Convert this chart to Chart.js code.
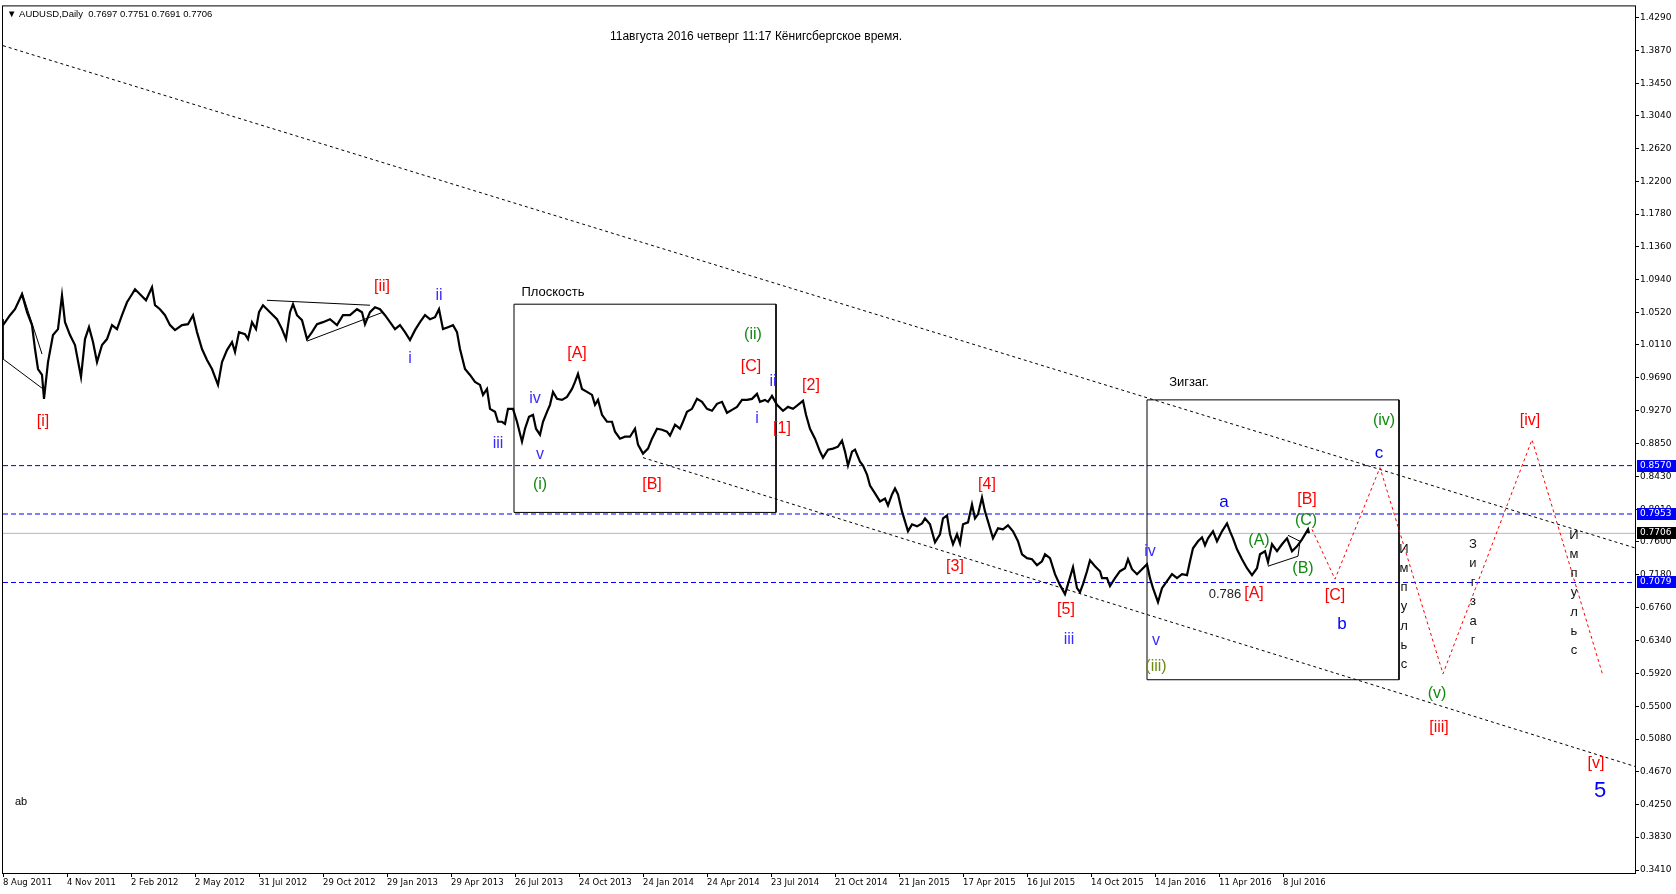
<!DOCTYPE html>
<html>
<head>
<meta charset="utf-8">
<script src="https://cdn.jsdelivr.net/npm/chart.js@4.4.1/dist/chart.umd.min.js"></script>
<style>
html, body { margin: 0; padding: 0; background: #fff; }
#wrap { width: 1676px; height: 894px; position: relative; }
</style>
</head>
<body>
<div id="wrap"><canvas id="chart"></canvas></div>
<script>
// axis labels
const xTickLabels = ['8 Aug 2011', '4 Nov 2011', '2 Feb 2012', '2 May 2012', '31 Jul 2012', '29 Oct 2012',
    '29 Jan 2013', '29 Apr 2013', '26 Jul 2013', '24 Oct 2013', '24 Jan 2014', '24 Apr 2014', '23 Jul 2014',
    '21 Oct 2014', '21 Jan 2015', '17 Apr 2015', '16 Jul 2015', '14 Oct 2015', '14 Jan 2016', '11 Apr 2016', '8 Jul 2016'];
const barsPerLabel = 64;
const yTickLabels = ['1.4290', '1.3870', '1.3450', '1.3040', '1.2620', '1.2200', '1.1780', '1.1360', '1.0940',
    '1.0520', '1.0110', '0.9690', '0.9270', '0.8850', '0.8430', '0.8010', '0.7600', '0.7180', '0.6760',
    '0.6340', '0.5920', '0.5500', '0.5080', '0.4670', '0.4250', '0.3830', '0.3410'];

// AUDUSD daily, bar number from 8 Aug 2011 and price
const barIndex = [0, 7, 12, 19, 24, 29, 32, 35, 39, 41, 45, 50, 55, 59, 62, 67, 72, 78, 82, 86, 90, 94, 99, 104, 109,
    114, 119, 124, 129, 132, 137, 143, 149, 152, 157, 162, 167, 172, 179, 185, 190, 194, 199, 204, 209, 215, 219,
    224, 229, 232, 236, 242, 245, 249, 253, 256, 260, 267, 274, 279, 283, 287, 290, 294, 299, 304, 309, 314, 320,
    327, 334, 340, 347, 354, 359, 362, 367, 372, 377, 382, 387, 392, 397, 402, 407, 412, 417, 422, 427, 432, 436,
    440, 445, 450, 454, 457, 462, 467, 472, 477, 480, 484, 487, 492, 495, 499, 502, 505, 510, 514, 519, 522, 526,
    530, 533, 537, 540, 544, 547, 550, 554, 559, 564, 569, 572, 575, 579, 584, 589, 592, 595, 599, 604, 609, 612,
    617, 622, 627, 632, 635, 640, 645, 649, 654, 659, 664, 667, 672, 677, 680, 684, 689, 694, 699, 704, 709, 714,
    719, 724, 729, 734, 739, 744, 749, 754, 757, 762, 765, 769, 774, 780, 785, 790, 795, 800, 803, 807, 812, 817,
    820, 825, 830, 835, 839, 842, 845, 849, 852, 857, 860, 864, 867, 872, 877, 882, 885, 889, 892, 895, 899, 902,
    905, 909, 914, 919, 922, 927, 932, 937, 940, 944, 947, 950, 954, 957, 960, 965, 969, 972, 975, 979, 982, 985,
    990, 995, 1000, 1005, 1010, 1015, 1019, 1024, 1029, 1034, 1039, 1042, 1047, 1052, 1057, 1062, 1065, 1070, 1074,
    1077, 1080, 1084, 1087, 1092, 1097, 1099, 1104, 1107, 1112, 1117, 1122, 1125, 1129, 1134, 1139, 1144, 1147,
    1150, 1155, 1159, 1164, 1169, 1174, 1179, 1184, 1187, 1190, 1195, 1199, 1202, 1205, 1210, 1214, 1219, 1224,
    1227, 1230, 1234, 1239, 1244, 1249, 1254, 1257, 1262, 1265, 1269, 1274, 1279, 1284, 1289, 1294, 1299, 1305, 1306];
const closePrice = [1.0363, 1.0490, 1.0566, 1.0757, 1.0528, 1.0363, 1.0058, 0.9803, 0.9727, 0.9422, 0.9892, 1.0236,
    1.0312, 1.0744, 1.0401, 1.0236, 1.0109, 0.9702, 1.0185, 1.0337, 1.0147, 0.9892, 1.0109, 1.0185, 1.0363, 1.0312,
    1.0490, 1.0655, 1.0757, 1.0820, 1.0757, 1.0680, 1.0846, 1.0617, 1.0566, 1.0490, 1.0363, 1.0299, 1.0363, 1.0375,
    1.0490, 1.0274, 1.0058, 0.9918, 0.9803, 0.9600, 0.9892, 1.0045, 1.0147, 1.0020, 1.0274, 1.0248, 1.0185, 1.0401,
    1.0312, 1.0528, 1.0617, 1.0528, 1.0439, 1.0312, 1.0185, 1.0528, 1.0630, 1.0490, 1.0426, 1.0185, 1.0274, 1.0375,
    1.0401, 1.0439, 1.0363, 1.0490, 1.0490, 1.0566, 1.0528, 1.0375, 1.0528, 1.0591, 1.0566, 1.0490, 1.0401, 1.0312,
    1.0363, 1.0274, 1.0172, 1.0299, 1.0401, 1.0490, 1.0439, 1.0464, 1.0566, 1.0312, 1.0337, 1.0363, 1.0274, 1.0058,
    0.9803, 0.9727, 0.9638, 0.9600, 0.9473, 0.9549, 0.9295, 0.9257, 0.9130, 0.9130, 0.9104, 0.9295, 0.9295, 0.9130,
    0.8876, 0.9041, 0.9193, 0.9219, 0.9041, 0.8965, 0.9130, 0.9257, 0.9346, 0.9511, 0.9422, 0.9409, 0.9448, 0.9549,
    0.9638, 0.9740, 0.9549, 0.9511, 0.9473, 0.9346, 0.9409, 0.9219, 0.9130, 0.9130, 0.9003, 0.8914, 0.8939, 0.8939,
    0.9041, 0.8838, 0.8723, 0.8787, 0.8914, 0.9041, 0.9028, 0.9003, 0.8952, 0.9092, 0.9041, 0.9130, 0.9257, 0.9295,
    0.9422, 0.9384, 0.9295, 0.9270, 0.9359, 0.9384, 0.9244, 0.9282, 0.9320, 0.9409, 0.9409, 0.9422, 0.9486, 0.9384,
    0.9409, 0.9384, 0.9460, 0.9346, 0.9270, 0.9320, 0.9295, 0.9346, 0.9397, 0.9219, 0.9041, 0.8914, 0.8749, 0.8672,
    0.8774, 0.8787, 0.8812, 0.8888, 0.8749, 0.8571, 0.8749, 0.8774, 0.8621, 0.8571, 0.8456, 0.8316, 0.8215, 0.8113,
    0.8151, 0.8062, 0.8202, 0.8278, 0.8202, 0.7986, 0.7859, 0.7732, 0.7821, 0.7795, 0.7833, 0.7897, 0.7821, 0.7592,
    0.7694, 0.7897, 0.7935, 0.7694, 0.7567, 0.7694, 0.7579, 0.7821, 0.7846, 0.8075, 0.7897, 0.7948, 0.8164, 0.7986,
    0.7859, 0.7643, 0.7770, 0.7757, 0.7808, 0.7732, 0.7605, 0.7439, 0.7389, 0.7376, 0.7300, 0.7350, 0.7439, 0.7389,
    0.7185, 0.7045, 0.6931, 0.7058, 0.7274, 0.7007, 0.6956, 0.7058, 0.7223, 0.7363, 0.7287, 0.7223, 0.7134, 0.7134,
    0.7033, 0.7134, 0.7223, 0.7261, 0.7376, 0.7249, 0.7185, 0.7249, 0.7312, 0.7134, 0.7007, 0.6829, 0.7007, 0.7096,
    0.7185, 0.7134, 0.7185, 0.7173, 0.7350, 0.7516, 0.7605, 0.7655, 0.7554, 0.7643, 0.7732, 0.7605, 0.7732, 0.7833,
    0.7732, 0.7643, 0.7503, 0.7376, 0.7261, 0.7173, 0.7261, 0.7439, 0.7478, 0.7338, 0.7567, 0.7478, 0.7567, 0.7643,
    0.7478, 0.7541, 0.7630, 0.7757, 0.7706];

// forecast path (red dotted)
const forecastIndex = [1309, 1332, 1377, 1440, 1529, 1600];
const forecastPrice = [0.7757, 0.7122, 0.8545, 0.5914, 0.8901, 0.5889];

// channel lines
const upperLineIndex = [0, 1632];
const upperLinePrice = [1.3929, 0.7520];
const lowerLineIndex = [640, 1632];
const lowerLinePrice = [0.8672, 0.4732];

// horizontal levels
const levelPrices = [0.8570, 0.7953, 0.7079];
const lastPrice = 0.7706;

// boxes: [from bar, to bar, top price, bottom price]
const flatBox = [511, 773, 1.0630, 0.7973];
const zigzagBox = [1144, 1396, 0.9409, 0.5838];

// thin drawn lines (null = break)
const thinIndex = [0, 0, 40, null, 19, 39, null, 264, 367, null, 304, 380, null, 1265, 1295, 1297, 1285];
const thinPrice = [1.0439, 0.9931, 0.9549, null, 1.0782, 0.9994, null, 1.0680, 1.0617, null, 1.0159, 1.0528, null,
    0.7287, 0.7414, 0.7605, 0.7681];

// wave labels [text, bar, price]
const redLabels = [['[i]', 40, 0.9130], ['[ii]', 379, 1.0858], ['[A]', 574, 0.9994], ['[B]', 649, 0.8329],
    ['[C]', 748, 0.9829], ['[1]', 779, 0.9041], ['[2]', 808, 0.9587], ['[3]', 952, 0.7287], ['[4]', 984, 0.8329],
    ['[5]', 1063, 0.6728], ['[A]', 1251, 0.6931], ['[B]', 1304, 0.8138], ['[C]', 1332, 0.6906],
    ['[iv]', 1527, 0.9143], ['[iii]', 1436, 0.5228], ['[v]', 1593, 0.4770]];
const greenLabels = [['(i)', 537, 0.8329], ['(ii)', 750, 1.0248], ['(A)', 1256, 0.7617], ['(B)', 1300, 0.7261],
    ['(C)', 1303, 0.7872], ['(iv)', 1381, 0.9143], ['(v)', 1434, 0.5660]];
const oliveLabels = [['(iii)', 1153, 0.6003]];
const violetLabels = [['i', 407, 0.9931], ['ii', 436, 1.0744], ['iii', 495, 0.8850], ['iv', 532, 0.9422],
    ['v', 537, 0.8710], ['ii', 770, 0.9638], ['i', 754, 0.9168], ['iii', 1066, 0.6346], ['iv', 1147, 0.7478],
    ['v', 1153, 0.6334]];
const blueLabels = [['a', 1221, 0.8100], ['b', 1339, 0.6550], ['c', 1376, 0.8723]];
const bigLabels = [['5', 1597, 0.4414]];
const blackLabels = [['Плоскость', 550, 1.0782], ['Зигзаг.', 1186, 0.9638], ['0.786', 1222, 0.6931], ['ab', 18, 0.4275]];
const verticalLabels = [['Импульс', 1401, 0.7503], ['Зигзаг', 1470, 0.7567], ['Импульс', 1571, 0.7681]];

const headerText = '\u25BC AUDUSD,Daily  0.7697 0.7751 0.7691 0.7706';
const titleText = '11августа 2016 четверг 11:17 Кёнигсбергское время.';

const xMax = 1632;
const pts = (xs, ys) => xs.map((v, k) => ({ x: v, y: ys[k] }));
const boxPts = b => [{ x: b[0], y: b[2] }, { x: b[1], y: b[2] }, { x: b[1], y: b[3] }, { x: b[0], y: b[3] }, { x: b[0], y: b[2] }];
const flat = (p, color, dash) => ({
    data: [{ x: 0, y: p }, { x: xMax, y: p }], borderColor: color, borderWidth: 1, borderDash: dash,
    pointRadius: 0, order: 5
});

const datasets = [
    { data: pts(barIndex, closePrice), borderColor: '#000', borderWidth: 2.2, pointRadius: 0, order: 0 },
    { data: pts(forecastIndex, forecastPrice), borderColor: '#ff0000', borderWidth: 1, borderDash: [3, 3], pointRadius: 0, order: 1 },
    { data: pts(upperLineIndex, upperLinePrice), borderColor: '#000', borderWidth: 1, borderDash: [3, 3], pointRadius: 0, order: 2 },
    { data: pts(lowerLineIndex, lowerLinePrice), borderColor: '#000', borderWidth: 1, borderDash: [3, 3], pointRadius: 0, order: 2 },
    { data: boxPts(flatBox), borderColor: '#000', borderWidth: 1, pointRadius: 0, order: 3 },
    { data: boxPts(zigzagBox), borderColor: '#000', borderWidth: 1, pointRadius: 0, order: 3 },
    { data: pts(thinIndex, thinPrice), borderColor: '#000', borderWidth: 1, pointRadius: 0, spanGaps: false, order: 3 },
    flat(lastPrice, '#b8b8b8', []),
    ...levelPrices.map(p => flat(p, '#0000ff', [5, 3]))
];

const axisFont = '"DejaVu Sans", Verdana, sans-serif';
const labelFont = '"Liberation Sans", Arial, sans-serif';

const overlay = {
    id: 'overlay',
    afterDatasetsDraw(chart) {
        const { ctx, chartArea: a, scales: { x, y } } = chart;
        ctx.save();
        ctx.strokeStyle = '#000';
        ctx.lineWidth = 1;
        ctx.strokeRect(a.left - 0.5, a.top - 0.5, a.right - a.left + 1, a.bottom - a.top + 1);

        ctx.textAlign = 'center';
        ctx.textBaseline = 'middle';
        const put = (list, color, size) => {
            ctx.fillStyle = color;
            ctx.font = size + 'px ' + labelFont;
            list.forEach(([t, i, p]) => ctx.fillText(t, x.getPixelForValue(i), y.getPixelForValue(p)));
        };
        put(redLabels, '#ff0000', 16);
        put(greenLabels, '#118a11', 16);
        put(oliveLabels, '#6e8a10', 16);
        put(violetLabels, '#3a2cff', 16);
        put(blueLabels, '#0000ff', 17);
        put(bigLabels, '#0000ff', 22);
        put(blackLabels.slice(0, 2), '#000', 13);
        put(blackLabels.slice(2, 3), '#222', 13);
        put(blackLabels.slice(3), '#000', 11);

        ctx.fillStyle = '#111';
        ctx.font = '13px ' + labelFont;
        verticalLabels.forEach(([t, i, p]) => {
            const px = x.getPixelForValue(i), py = y.getPixelForValue(p);
            [...t].forEach((ch, k) => ctx.fillText(ch, px, py + k * 19.2));
        });

        ctx.textAlign = 'left';
        ctx.fillStyle = '#000';
        ctx.font = '9.5px ' + labelFont;
        ctx.fillText(headerText, a.left + 4, a.top + 8);
        ctx.textAlign = 'center';
        ctx.font = '12px ' + labelFont;
        ctx.fillText(titleText, 756, a.top + 30);
        ctx.restore();
    },
    afterDraw(chart) {
        const { ctx, chartArea: a, scales: { y } } = chart;
        ctx.save();
        ctx.font = '9px ' + axisFont;
        ctx.textBaseline = 'middle';
        ctx.textAlign = 'left';
        const tag = (p, bg) => {
            const py = Math.round(y.getPixelForValue(p));
            ctx.fillStyle = bg;
            ctx.fillRect(a.right + 2, py - 6, chart.width - a.right - 2, 12);
            ctx.fillStyle = '#fff';
            ctx.fillText(p.toFixed(4), a.right + 5, py);
        };
        levelPrices.forEach(p => tag(p, '#0000ff'));
        tag(lastPrice, '#000');
        ctx.restore();
    }
};

new Chart(document.getElementById('chart'), {
    type: 'line',
    data: { datasets },
    options: {
        responsive: true,
        maintainAspectRatio: false,
        animation: false,
        events: [],
        layout: { padding: { left: 3, top: 3, right: 0, bottom: 0 } },
        plugins: { legend: { display: false }, tooltip: { enabled: false } },
        scales: {
            x: {
                type: 'linear', min: 0, max: xMax,
                afterBuildTicks: s => { s.ticks = xTickLabels.map((_, k) => ({ value: k * barsPerLabel })); },
                afterFit: s => { s.height = 21; },
                grid: { drawOnChartArea: false, drawTicks: true, tickLength: 4, color: '#000' },
                border: { display: true, color: '#000' },
                ticks: {
                    autoSkip: false, maxRotation: 0, align: 'start', padding: 1, labelOffset: 0,
                    color: '#000', font: { family: axisFont, size: 8.5 },
                    callback: (v, k) => xTickLabels[k]
                }
            },
            y: {
                type: 'linear', position: 'right', min: 0.3372, max: 1.4430,
                afterBuildTicks: s => { s.ticks = yTickLabels.map(t => ({ value: parseFloat(t) })); },
                afterFit: s => { s.width = 41; },
                grid: { drawOnChartArea: false, drawTicks: true, tickLength: 4, color: '#000' },
                border: { display: true, color: '#000' },
                ticks: {
                    autoSkip: false, padding: 1,
                    color: '#000', font: { family: axisFont, size: 9 },
                    callback: (v, k) => yTickLabels[k]
                }
            }
        }
    },
    plugins: [overlay]
});
</script>
</body>
</html>
